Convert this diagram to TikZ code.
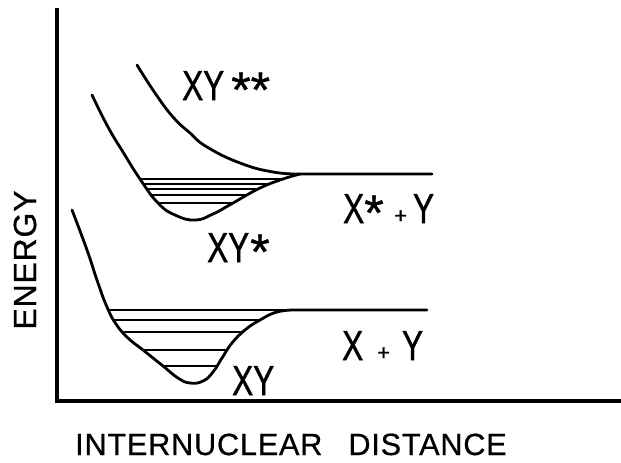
\documentclass[tikz,border=0pt]{standalone}
\usepackage{fontspec}
\setmainfont{Liberation Sans}
\newfontfamily\labfont[FakeBold=1.2]{Liberation Sans}
\newfontfamily\astfont[FakeBold=0.8]{Liberation Sans}
\newfontfamily\axfont[FakeBold=0.6,LetterSpace=2.5]{Liberation Sans}
\newcommand{\cond}[1]{\scalebox{0.75}[1]{#1}}
\newcommand{\smallplus}{{\fontsize{22}{22}\selectfont+}}
\newcommand{\bigast}{\raisebox{-7pt}{\astfont\fontsize{50}{50}\selectfont *}}
\begin{document}
\begin{tikzpicture}[x=1pt,y=-1pt,
  curve/.style={line width=2.8pt, line cap=round, line join=round},
  vlevel/.style={line width=1.9pt},
  axis/.style={line width=3.2pt},
  lab/.style={font=\labfont\fontsize{42}{42}\selectfont, inner sep=0pt, anchor=base west}]
\useasboundingbox (0,0) rectangle (621,463);
% axes
\coordinate (top) at (57,8);
\coordinate (origin) at (57,401);
\coordinate (right) at (621,401);
\draw[axis] (top) -- (origin) -- (right);
% XY** repulsive curve
\draw[curve] plot[smooth, tension=0.8] coordinates {(137,65) (155,93) (173,117) (190,133) (207,147) (240,163) (273,172) (300,174)} -- (432,174);
% XY* curve
\draw[curve] plot[smooth, tension=0.8] coordinates {(92,95) (108,127) (123,152) (140,179) (158,203) (175,215) (195,220) (213,214) (233,203) (258,189) (280,180) (300,174)};
\begin{scope}
  \clip plot[smooth, tension=0.8] coordinates {(92,95) (108,127) (123,152) (140,179) (158,203) (175,215) (195,220) (213,214) (233,203) (258,189) (280,180) (300,174)} -- cycle;
  \foreach \yy in {179,184,189,195,203} \draw[vlevel] (100,\yy) -- (300,\yy);
\end{scope}
% XY curve
\draw[curve] plot[smooth, tension=0.8] coordinates {(72,210) (87,250) (98,283) (107,307) (116,324) (128,338) (143,350) (163,366) (178,378) (190,383) (203,381) (213,372) (222,358) (232,343) (245,330) (260,320) (277,312) (295,310)} -- (427,310);
\begin{scope}
  \clip plot[smooth, tension=0.8] coordinates {(72,210) (87,250) (98,283) (107,307) (116,324) (128,338) (143,350) (163,366) (178,378) (190,383) (203,381) (213,372) (222,358) (232,343) (245,330) (260,320) (277,312) (295,310)} -- cycle;
  \foreach \yy in {320,332,350,366} \draw[vlevel] (80,\yy) -- (300,\yy);
\end{scope}
\draw[vlevel] (108,310) -- (290,310);
% labels
\node[lab] (xyss) at (182,100) {\cond{XY}\hspace{7pt}\bigast\bigast};
\node[lab] (xys) at (207,262) {\cond{XY}\hspace{1pt}\bigast};
\node[lab] (xsy) at (343,223) {\cond{X}\bigast\hspace{10.5pt}\smallplus\hspace{6pt}\cond{Y}};
\node[lab] (xy) at (232,395) {\cond{XY}};
\node[lab] (xpy) at (342,360) {\cond{X}\hspace{14pt}\smallplus\hspace{12pt}\cond{Y}};
\node[rotate=90, font=\axfont\fontsize{32}{32}\selectfont, inner sep=0pt] (en) at (25,260) {ENERGY};
\node[font=\axfont\fontsize{30.7}{31}\selectfont, anchor=base west, inner sep=0pt] (xl) at (75,455) {INTERNUCLEAR\hspace{26pt}DISTANCE};
\end{tikzpicture}
\end{document}
